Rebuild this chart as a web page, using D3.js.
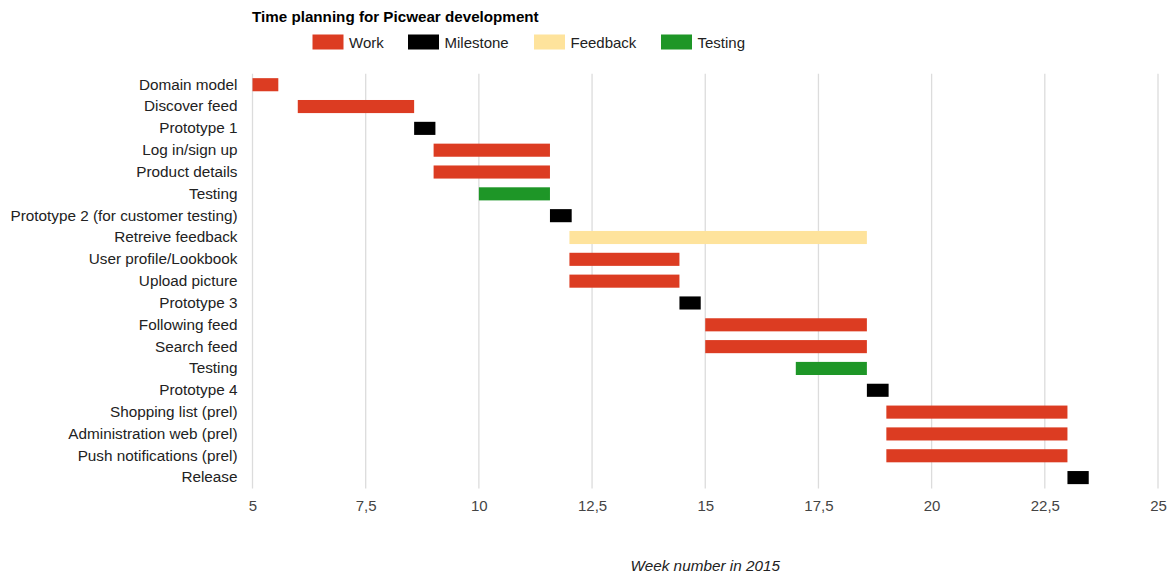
<!DOCTYPE html>
<html>
<head>
<meta charset="utf-8">
<script src="https://cdn.jsdelivr.net/npm/d3@7"></script>
<style>
  html, body { margin: 0; padding: 0; background: #fff; }
  svg { display: block; font-family: "Liberation Sans", Arial, sans-serif; }
</style>
</head>
<body>
<svg id="chart" width="1176" height="577"></svg>
<script>
const tasks = ["Domain model", "Discover feed", "Prototype 1", "Log in/sign up", "Product details", "Testing",
  "Prototype 2 (for customer testing)", "Retreive feedback", "User profile/Lookbook", "Upload picture",
  "Prototype 3", "Following feed", "Search feed", "Testing ", "Prototype 4", "Shopping list (prel)",
  "Administration web (prel)", "Push notifications (prel)", "Release"];
const starts = [5, 6, 8.57, 9, 9, 10, 11.57, 12, 12, 12, 14.43, 15, 15, 17, 18.57, 19, 19, 19, 23];
const ends   = [5.57, 8.57, 9.04, 11.57, 11.57, 11.57, 12.05, 18.57, 14.43, 14.43, 14.9, 18.57, 18.57, 18.57, 19.05, 23, 23, 23, 23.47];
const types  = ["Work", "Work", "Milestone", "Work", "Work", "Testing", "Milestone", "Feedback", "Work", "Work",
  "Milestone", "Work", "Work", "Testing", "Milestone", "Work", "Work", "Work", "Milestone"];
const legendTypes = ["Work", "Milestone", "Feedback", "Testing"];
const typeColors = ["#dc3c22", "#000000", "#fee39c", "#1e9627"];
const xTicks = [5, 7.5, 10, 12.5, 15, 17.5, 20, 22.5, 25];

(function () {
const svg = d3.select("#chart");
const plotLeft = 252.5, plotRight = 1158, plotTop = 73.8, plotBottom = 488.5;

const x = d3.scaleLinear().domain([5, 25]).range([plotLeft, plotRight]);
const y = d3.scaleBand().domain(tasks).range([plotTop, plotBottom]).paddingInner(0.4).paddingOuter(0.2);
const color = d3.scaleOrdinal().domain(legendTypes).range(typeColors);
const fmt = v => String(v).replace(".", ",");

// grid lines
svg.append("g").selectAll("line").data(xTicks).join("line")
  .attr("x1", d => x(d)).attr("x2", d => x(d))
  .attr("y1", plotTop).attr("y2", plotBottom)
  .attr("stroke", "#dcdcdc").attr("stroke-width", 1.3);

// x tick labels via axis
const xAxis = svg.append("g").attr("transform", `translate(0,${plotBottom})`)
  .call(d3.axisBottom(x).tickValues(xTicks).tickFormat(fmt).tickSize(0).tickPadding(12));
xAxis.select(".domain").remove();
xAxis.selectAll("text").attr("font-size", 15).attr("fill", "#444")
  .attr("font-family", "Liberation Sans, Arial, sans-serif");

// y labels via axis
const yAxis = svg.append("g").attr("transform", `translate(${plotLeft},0)`)
  .call(d3.axisLeft(y).tickSize(0).tickPadding(15));
yAxis.select(".domain").remove();
yAxis.selectAll("text").attr("font-size", 15.3).attr("fill", "#222")
  .attr("font-family", "Liberation Sans, Arial, sans-serif");

// bars
const idx = d3.range(tasks.length);
svg.append("g").selectAll("rect").data(idx).join("rect")
  .attr("x", i => x(starts[i]))
  .attr("width", i => x(ends[i]) - x(starts[i]))
  .attr("y", i => y(tasks[i]))
  .attr("height", y.bandwidth())
  .attr("fill", i => color(types[i]));

// title
svg.append("text").attr("x", 252).attr("y", 22)
  .attr("font-size", 15.2).attr("font-weight", "bold").attr("fill", "#000")
  .text("Time planning for Picwear development");

// legend
const legendX = [312.5, 408, 534, 661];
const lg = svg.append("g").selectAll("g").data(legendTypes).join("g")
  .attr("transform", (d, i) => `translate(${legendX[i]},34.5)`);
lg.append("rect").attr("width", 31).attr("height", 15).attr("fill", d => color(d));
lg.append("text").attr("x", 36.5).attr("y", 13).attr("font-size", 15).attr("fill", "#222").text(d => d);

// axis title
svg.append("text").attr("x", (plotLeft + plotRight) / 2).attr("y", 571)
  .attr("text-anchor", "middle").attr("font-size", 15.3).attr("font-style", "italic").attr("fill", "#222")
  .text("Week number in 2015");
})();
</script>
</body>
</html>
